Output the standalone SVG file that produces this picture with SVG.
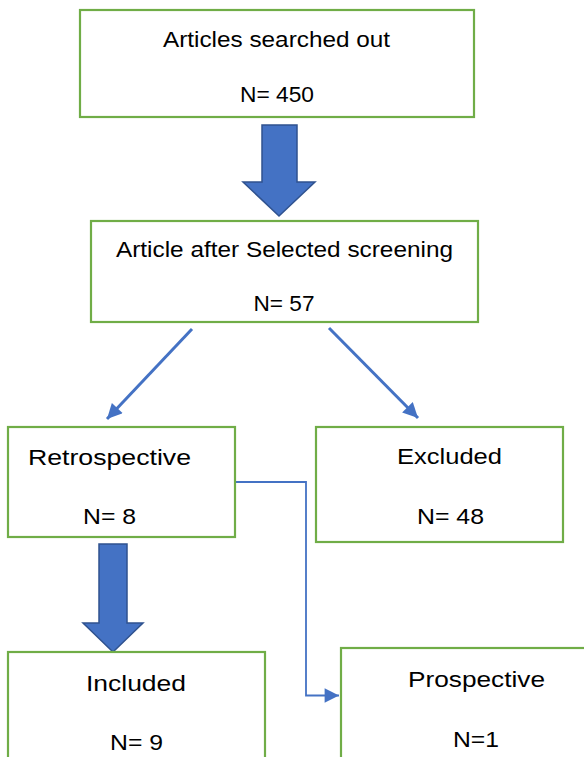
<svg xmlns="http://www.w3.org/2000/svg" width="584" height="757" viewBox="0 0 584 757">
<defs>
<style>
.box{fill:#fff;stroke:#70AD47;stroke-width:2.2}
.t{font-family:"Liberation Sans",Arial,sans-serif;font-size:22px;fill:#000;text-anchor:middle}
.big{fill:#4472C4;stroke:#2F528F;stroke-width:1.5;stroke-linejoin:miter}
.diag{fill:none;stroke:#4472C4;stroke-width:3}
.elbow{fill:none;stroke:#4472C4;stroke-width:1.8}
</style>
<marker id="ah" viewBox="0 0 10 10" refX="10" refY="5" markerWidth="6" markerHeight="5" markerUnits="strokeWidth" orient="auto">
<path d="M0,0 L10,5 L0,10 Z" fill="#4472C4"/>
</marker>
<marker id="ah2" viewBox="0 0 10 10" refX="10" refY="5" markerWidth="9" markerHeight="8" markerUnits="strokeWidth" orient="auto">
<path d="M0,0 L10,5 L0,10 Z" fill="#4472C4"/>
</marker>
</defs>
<rect width="584" height="757" fill="#fff"/>
<g id="connectors">
<path class="big" d="M262,125 H297 V182 H315 L279,216 L243,182 H262 Z"/>
<path class="big" d="M99,544 H127 V623 H143 L113,652 L83,623 H99 Z"/>
<line class="diag" x1="192" y1="329" x2="107" y2="419" marker-end="url(#ah)"/>
<line class="diag" x1="329" y1="328" x2="418" y2="418" marker-end="url(#ah)"/>
<path class="elbow" d="M232,482 H306 V695.5 H339" marker-end="url(#ah2)"/>
</g>
<g id="n1">
<rect class="box" x="80" y="10" width="394" height="107"/>
<text class="t" x="276.5" y="47" textLength="227" lengthAdjust="spacingAndGlyphs">Articles searched out</text>
<text class="t" x="277" y="102" textLength="74" lengthAdjust="spacingAndGlyphs">N= 450</text>
</g>
<g id="n2">
<rect class="box" x="91" y="221" width="387" height="101"/>
<text class="t" x="284.5" y="257" textLength="337" lengthAdjust="spacingAndGlyphs">Article after Selected screening</text>
<text class="t" x="284" y="311" textLength="61" lengthAdjust="spacingAndGlyphs">N= 57</text>
</g>
<g id="n3">
<rect class="box" x="8" y="427" width="227" height="110"/>
<text class="t" x="109.5" y="465" textLength="163" lengthAdjust="spacingAndGlyphs">Retrospective</text>
<text class="t" x="109.5" y="524" textLength="53" lengthAdjust="spacingAndGlyphs">N= 8</text>
</g>
<g id="n4">
<rect class="box" x="316" y="427" width="247" height="115"/>
<text class="t" x="449.5" y="464" textLength="105" lengthAdjust="spacingAndGlyphs">Excluded</text>
<text class="t" x="450.5" y="524" textLength="67" lengthAdjust="spacingAndGlyphs">N= 48</text>
</g>
<g id="n5">
<rect class="box" x="8" y="652" width="257" height="120"/>
<text class="t" x="136" y="691" textLength="100" lengthAdjust="spacingAndGlyphs">Included</text>
<text class="t" x="136.5" y="750" textLength="53" lengthAdjust="spacingAndGlyphs">N= 9</text>
</g>
<g id="n6">
<rect class="box" x="341" y="648" width="260" height="124"/>
<text class="t" x="476.5" y="687" textLength="137" lengthAdjust="spacingAndGlyphs">Prospective</text>
<text class="t" x="476" y="747" textLength="46" lengthAdjust="spacingAndGlyphs">N=1</text>
</g>
</svg>
